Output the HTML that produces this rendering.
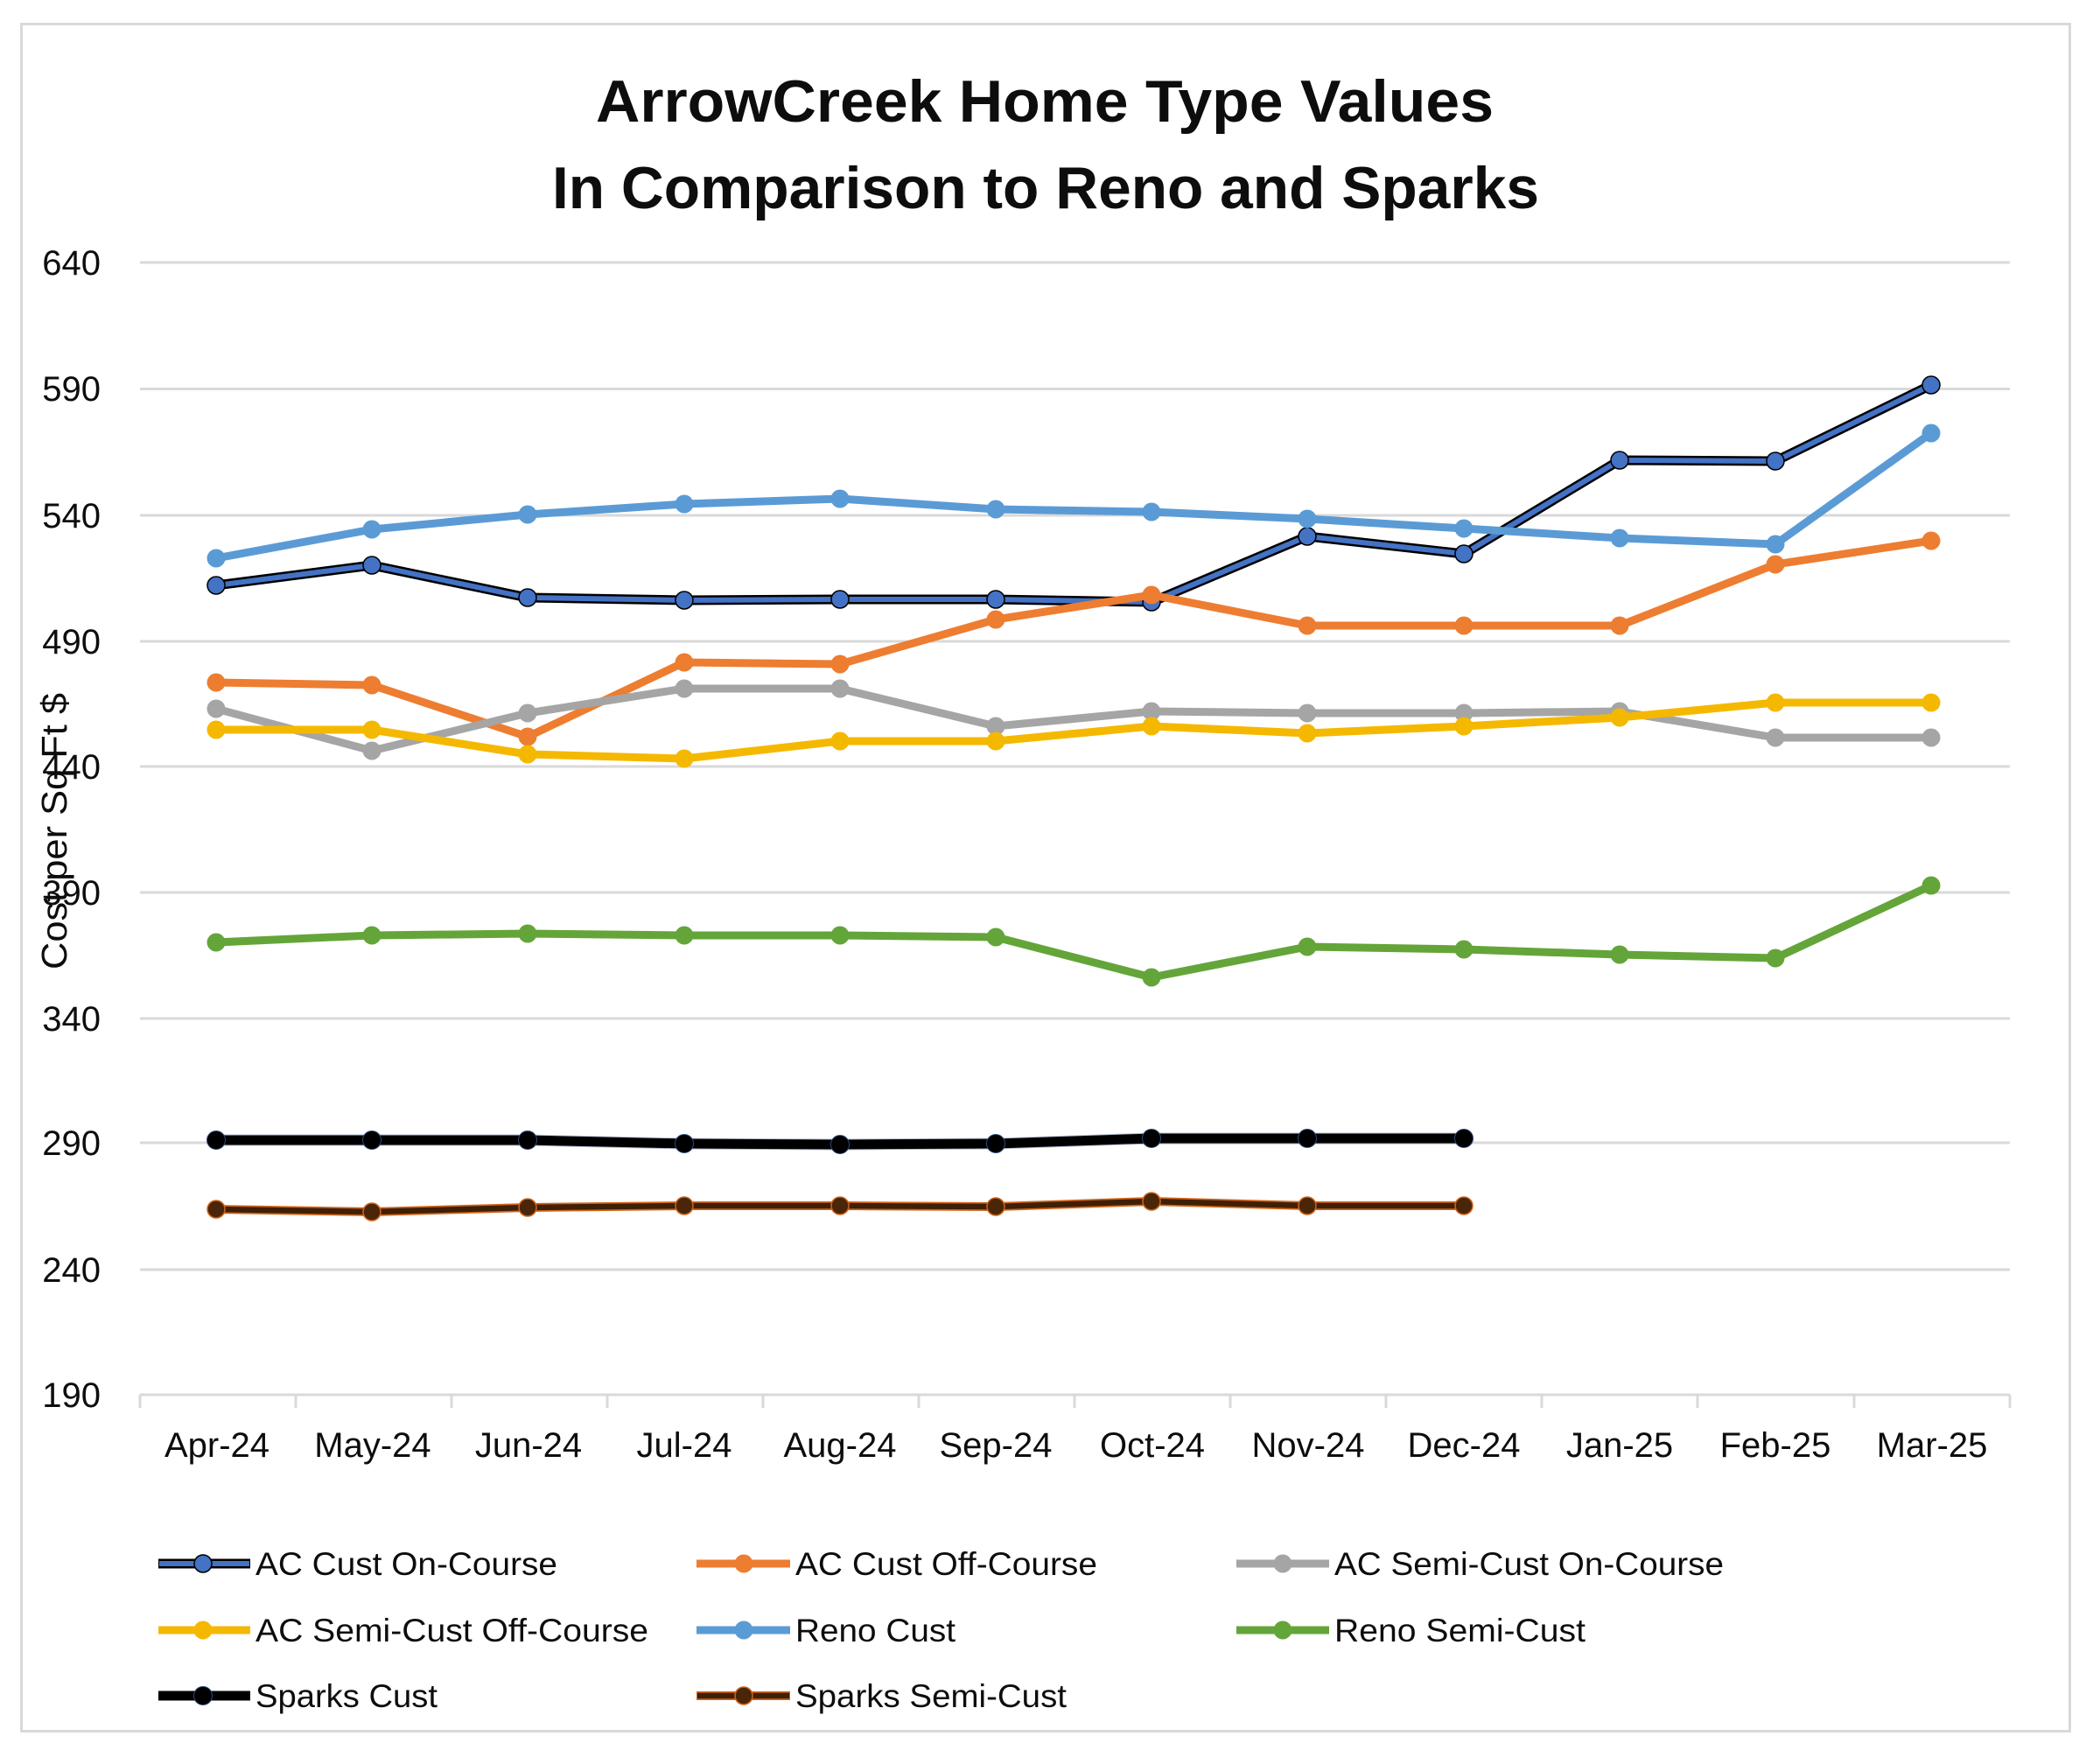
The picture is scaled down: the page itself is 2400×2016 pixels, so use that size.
<!DOCTYPE html>
<html>
<head>
<meta charset="utf-8">
<style>
  html, body { margin:0; padding:0; background:#fff; }
  body { width:2400px; height:2016px; overflow:hidden; }
  svg { display:block; }
  text { font-family: "Liberation Sans", sans-serif; fill:#0d0d0d; }
</style>
</head>
<body>
<svg width="2400" height="2016" viewBox="0 0 2400 2016" xmlns="http://www.w3.org/2000/svg">
  <defs>
    <marker id="mOn" markerUnits="userSpaceOnUse" markerWidth="26" markerHeight="26" refX="13" refY="13">
      <circle cx="13" cy="13" r="10" fill="#4472C4" stroke="#000" stroke-width="1.5"/>
    </marker>
    <marker id="mOff" markerUnits="userSpaceOnUse" markerWidth="26" markerHeight="26" refX="13" refY="13">
      <circle cx="13" cy="13" r="10.5" fill="#ED7D31"/>
    </marker>
    <marker id="mGray" markerUnits="userSpaceOnUse" markerWidth="26" markerHeight="26" refX="13" refY="13">
      <circle cx="13" cy="13" r="10.5" fill="#A5A5A5"/>
    </marker>
    <marker id="mYel" markerUnits="userSpaceOnUse" markerWidth="26" markerHeight="26" refX="13" refY="13">
      <circle cx="13" cy="13" r="10.5" fill="#F5B800"/>
    </marker>
    <marker id="mReno" markerUnits="userSpaceOnUse" markerWidth="26" markerHeight="26" refX="13" refY="13">
      <circle cx="13" cy="13" r="10.5" fill="#5B9BD5"/>
    </marker>
    <marker id="mGreen" markerUnits="userSpaceOnUse" markerWidth="26" markerHeight="26" refX="13" refY="13">
      <circle cx="13" cy="13" r="10.5" fill="#64A53A"/>
    </marker>
    <marker id="mSpk" markerUnits="userSpaceOnUse" markerWidth="26" markerHeight="26" refX="13" refY="13">
      <circle cx="13" cy="13" r="10.5" fill="#000" stroke="#2F4A80" stroke-width="1"/>
    </marker>
    <marker id="mSemi" markerUnits="userSpaceOnUse" markerWidth="26" markerHeight="26" refX="13" refY="13">
      <circle cx="13" cy="13" r="10" fill="#4A2508" stroke="#D06418" stroke-width="1.5"/>
    </marker>
  </defs>

  <!-- chart border -->
  <rect x="24.5" y="27.5" width="2341" height="1951" fill="#fff" stroke="#D9D9D9" stroke-width="3"/>

  <!-- title -->
  <text x="1194" y="139" text-anchor="middle" font-size="68" font-weight="bold" textLength="1026" lengthAdjust="spacingAndGlyphs">ArrowCreek Home Type Values</text>
  <text x="1195" y="238" text-anchor="middle" font-size="68" font-weight="bold" textLength="1128" lengthAdjust="spacingAndGlyphs">In Comparison to Reno and Sparks</text>

  <!-- gridlines -->
  <g stroke="#D9D9D9" stroke-width="3">
    <line x1="160" y1="300" x2="2297" y2="300"/>
    <line x1="160" y1="444.5" x2="2297" y2="444.5"/>
    <line x1="160" y1="589" x2="2297" y2="589"/>
    <line x1="160" y1="733" x2="2297" y2="733"/>
    <line x1="160" y1="876" x2="2297" y2="876"/>
    <line x1="160" y1="1020" x2="2297" y2="1020"/>
    <line x1="160" y1="1164" x2="2297" y2="1164"/>
    <line x1="160" y1="1306" x2="2297" y2="1306"/>
    <line x1="160" y1="1451" x2="2297" y2="1451"/>
    <line x1="160" y1="1594" x2="2297" y2="1594"/>
  </g>
  <!-- x ticks -->
  <g stroke="#D9D9D9" stroke-width="3">
    <line x1="160" y1="1594" x2="160" y2="1609"/>
    <line x1="338" y1="1594" x2="338" y2="1609"/>
    <line x1="516" y1="1594" x2="516" y2="1609"/>
    <line x1="694" y1="1594" x2="694" y2="1609"/>
    <line x1="872" y1="1594" x2="872" y2="1609"/>
    <line x1="1050" y1="1594" x2="1050" y2="1609"/>
    <line x1="1228" y1="1594" x2="1228" y2="1609"/>
    <line x1="1406" y1="1594" x2="1406" y2="1609"/>
    <line x1="1584" y1="1594" x2="1584" y2="1609"/>
    <line x1="1762" y1="1594" x2="1762" y2="1609"/>
    <line x1="1940" y1="1594" x2="1940" y2="1609"/>
    <line x1="2119" y1="1594" x2="2119" y2="1609"/>
    <line x1="2297" y1="1594" x2="2297" y2="1609"/>
  </g>

  <!-- y tick labels -->
  <g font-size="40" text-anchor="end">
    <text x="115" y="314">640</text>
    <text x="115" y="458">590</text>
    <text x="115" y="603">540</text>
    <text x="115" y="747">490</text>
    <text x="115" y="890">440</text>
    <text x="115" y="1034">390</text>
    <text x="115" y="1178">340</text>
    <text x="115" y="1320">290</text>
    <text x="115" y="1465">240</text>
    <text x="115" y="1608">190</text>
  </g>

  <!-- y axis title -->
  <text transform="translate(76,950) rotate(-90)" text-anchor="middle" font-size="41" textLength="316" lengthAdjust="spacingAndGlyphs">Cost per Sq Ft $</text>

  <!-- x tick labels -->
  <g font-size="40" text-anchor="middle">
    <text x="248" y="1665">Apr-24</text>
    <text x="426" y="1665">May-24</text>
    <text x="604" y="1665">Jun-24</text>
    <text x="782" y="1665">Jul-24</text>
    <text x="960" y="1665">Aug-24</text>
    <text x="1138" y="1665">Sep-24</text>
    <text x="1317" y="1665">Oct-24</text>
    <text x="1495" y="1665">Nov-24</text>
    <text x="1673" y="1665">Dec-24</text>
    <text x="1851" y="1665">Jan-25</text>
    <text x="2029" y="1665">Feb-25</text>
    <text x="2208" y="1665">Mar-25</text>
  </g>

  <!-- series -->
  <g fill="none" stroke-linejoin="round" stroke-linecap="round">
    <!-- AC Cust On-Course -->
    <polyline stroke="#000" stroke-width="11" points="247,669 425,646 603,683 782,686 960,685 1138,685 1316,688 1494,613 1673,633 1851,526 2029,527 2207,440"/>
    <polyline stroke="#4472C4" stroke-width="6" points="247,669 425,646 603,683 782,686 960,685 1138,685 1316,688 1494,613 1673,633 1851,526 2029,527 2207,440" marker-start="url(#mOn)" marker-mid="url(#mOn)" marker-end="url(#mOn)"/>
    <!-- AC Cust Off-Course -->
    <polyline stroke="#ED7D31" stroke-width="9" points="247,780 425,783 603,842 782,757 960,759 1138,708 1316,680 1494,715 1673,715 1851,715 2029,645 2207,618" marker-start="url(#mOff)" marker-mid="url(#mOff)" marker-end="url(#mOff)"/>
    <!-- AC Semi-Cust On-Course -->
    <polyline stroke="#A5A5A5" stroke-width="9" points="247,810 425,858 603,815 782,787 960,787 1138,830 1316,813 1494,815 1673,815 1851,813 2029,843 2207,843" marker-start="url(#mGray)" marker-mid="url(#mGray)" marker-end="url(#mGray)"/>
    <!-- AC Semi-Cust Off-Course -->
    <polyline stroke="#F5B800" stroke-width="9" points="247,834 425,834 603,862 782,867 960,847 1138,847 1316,830 1494,838 1673,830 1851,820 2029,803 2207,803" marker-start="url(#mYel)" marker-mid="url(#mYel)" marker-end="url(#mYel)"/>
    <!-- Reno Cust -->
    <polyline stroke="#5B9BD5" stroke-width="9" points="247,638 425,605 603,588 782,576 960,570 1138,582 1316,585 1494,593 1673,604 1851,615 2029,622 2207,495" marker-start="url(#mReno)" marker-mid="url(#mReno)" marker-end="url(#mReno)"/>
    <!-- Reno Semi-Cust -->
    <polyline stroke="#64A53A" stroke-width="9" points="247,1077 425,1069 603,1067 782,1069 960,1069 1138,1071 1316,1117 1494,1082 1673,1085 1851,1091 2029,1095 2207,1012" marker-start="url(#mGreen)" marker-mid="url(#mGreen)" marker-end="url(#mGreen)"/>
    <!-- Sparks Cust -->
    <polyline stroke="#2F4A80" stroke-width="13" stroke-opacity="0.35" points="247,1303 425,1303 603,1303 782,1307 960,1308 1138,1307 1316,1301 1494,1301 1673,1301"/>
    <polyline stroke="#000" stroke-width="11" points="247,1303 425,1303 603,1303 782,1307 960,1308 1138,1307 1316,1301 1494,1301 1673,1301" marker-start="url(#mSpk)" marker-mid="url(#mSpk)" marker-end="url(#mSpk)"/>
    <!-- Sparks Semi-Cust -->
    <polyline stroke="#D06418" stroke-width="10" points="247,1382 425,1385 603,1380 782,1378 960,1378 1138,1379 1316,1373 1494,1378 1673,1378"/>
    <polyline stroke="#3F1F06" stroke-width="6.5" points="247,1382 425,1385 603,1380 782,1378 960,1378 1138,1379 1316,1373 1494,1378 1673,1378" marker-start="url(#mSemi)" marker-mid="url(#mSemi)" marker-end="url(#mSemi)"/>
  </g>

  <!-- legend -->
  <g stroke-linecap="butt">
    <!-- row 1 -->
    <line x1="181" y1="1787" x2="286" y2="1787" stroke="#000" stroke-width="11"/>
    <line x1="182" y1="1787" x2="285" y2="1787" stroke="#4472C4" stroke-width="6"/>
    <circle cx="232" cy="1787" r="10" fill="#4472C4" stroke="#000" stroke-width="1.5"/>

    <line x1="796" y1="1787" x2="903" y2="1787" stroke="#ED7D31" stroke-width="9"/>
    <circle cx="850" cy="1787" r="10.5" fill="#ED7D31"/>

    <line x1="1413" y1="1787" x2="1519" y2="1787" stroke="#A5A5A5" stroke-width="9"/>
    <circle cx="1466" cy="1787" r="10.5" fill="#A5A5A5"/>

    <!-- row 2 -->
    <line x1="181" y1="1863" x2="286" y2="1863" stroke="#F5B800" stroke-width="9"/>
    <circle cx="232" cy="1863" r="10.5" fill="#F5B800"/>

    <line x1="796" y1="1863" x2="903" y2="1863" stroke="#5B9BD5" stroke-width="9"/>
    <circle cx="850" cy="1863" r="10.5" fill="#5B9BD5"/>

    <line x1="1413" y1="1863" x2="1519" y2="1863" stroke="#64A53A" stroke-width="9"/>
    <circle cx="1466" cy="1863" r="10.5" fill="#64A53A"/>

    <!-- row 3 -->
    <line x1="181" y1="1938" x2="286" y2="1938" stroke="#000" stroke-width="11"/>
    <circle cx="232" cy="1938" r="10.5" fill="#000" stroke="#2F4A80" stroke-width="1"/>

    <line x1="796" y1="1938" x2="903" y2="1938" stroke="#D06418" stroke-width="10"/>
    <line x1="797" y1="1938" x2="902" y2="1938" stroke="#3F1F06" stroke-width="6.5"/>
    <circle cx="850" cy="1938" r="10" fill="#4A2508" stroke="#D06418" stroke-width="1.5"/>
  </g>
  <g font-size="37">
    <text x="292" y="1800" textLength="345" lengthAdjust="spacingAndGlyphs">AC Cust On-Course</text>
    <text x="909" y="1800" textLength="345" lengthAdjust="spacingAndGlyphs">AC Cust Off-Course</text>
    <text x="1525" y="1800" textLength="445" lengthAdjust="spacingAndGlyphs">AC Semi-Cust On-Course</text>
    <text x="292" y="1876" textLength="449" lengthAdjust="spacingAndGlyphs">AC Semi-Cust Off-Course</text>
    <text x="909" y="1876" textLength="183" lengthAdjust="spacingAndGlyphs">Reno Cust</text>
    <text x="1525" y="1876" textLength="287" lengthAdjust="spacingAndGlyphs">Reno Semi-Cust</text>
    <text x="292" y="1951" textLength="208" lengthAdjust="spacingAndGlyphs">Sparks Cust</text>
    <text x="909" y="1951" textLength="310" lengthAdjust="spacingAndGlyphs">Sparks Semi-Cust</text>
  </g>
</svg>
</body>
</html>
